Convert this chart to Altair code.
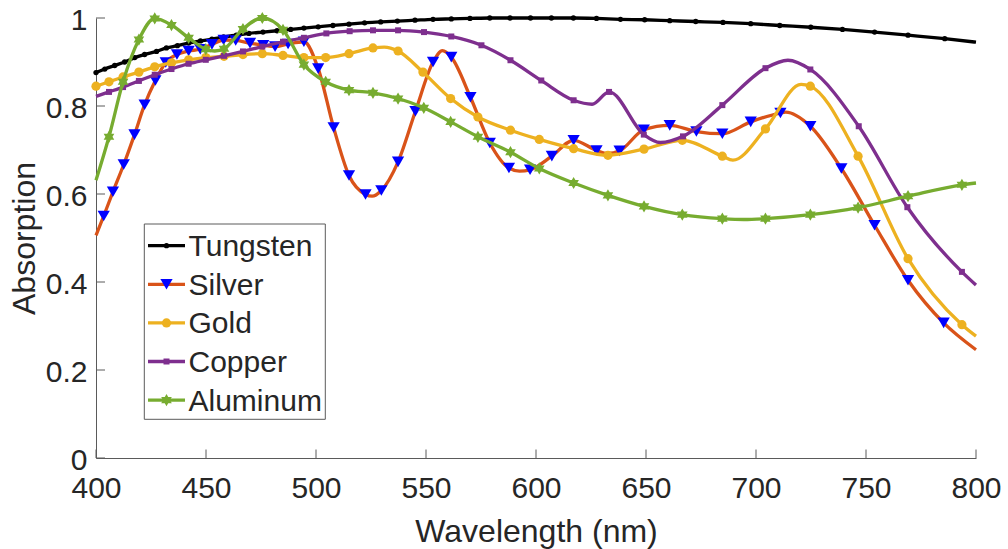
import altair as alt
import pandas as pd

# ---------------- data ----------------
SERIES = ["Tungsten", "Silver", "Gold", "Copper", "Aluminum"]

# Tungsten
TUNG_MK_WL = [400, 404, 408.5, 413, 417.6, 422.1, 427.5, 432, 437, 442.1, 447.5, 452.7, 458, 463.8,
              469.5, 475.9, 482.3, 488.5, 494.5, 501, 507.7, 515, 522.1, 529.4, 537, 545, 553.2, 561.5,
              570, 579, 588.2, 597.5, 607, 617, 627.5, 638.4, 649.4, 660.8, 672.6, 685, 697.6, 710.8,
              724.9, 739.3, 753.9, 769.1, 785.8]
TUNG_MK_A = [0.876, 0.884, 0.892, 0.900, 0.910, 0.917, 0.924, 0.932, 0.937, 0.943, 0.948, 0.952, 0.957, 0.961,
             0.965, 0.968, 0.971, 0.974, 0.977, 0.980, 0.983, 0.986, 0.989, 0.991, 0.993, 0.995, 0.997, 0.998,
             0.999, 1.0, 1.0, 1.0, 1.0, 1.0, 0.999, 0.997, 0.996, 0.994, 0.992, 0.990, 0.987, 0.983,
             0.979, 0.974, 0.968, 0.961, 0.953]
TUNG_LN_WL = [800]
TUNG_LN_A = [0.945]

# Silver
SILV_MK_WL = [403.5, 407.7, 412.6, 417.5, 422.1, 427, 431.7, 436.8, 442.1, 447.4, 452.7, 458, 463.5, 470,
              476, 481.4, 487.3, 494.5, 501, 508, 515, 522.5, 529.7, 537.3, 545.2, 553.2, 561.5, 570.2,
              579, 587.7, 597.3, 607.2, 617.1, 627.5, 638, 649, 660.8, 672.9, 684.7, 697.6, 711.1, 724.7,
              738.8, 753.9, 769.1, 785.3]
SILV_MK_A = [0.550, 0.605, 0.667, 0.735, 0.803, 0.858, 0.899, 0.917, 0.925, 0.929, 0.940, 0.950, 0.949, 0.943,
             0.938, 0.935, 0.941, 0.946, 0.885, 0.751, 0.642, 0.599, 0.608, 0.673, 0.788, 0.900, 0.911, 0.820,
             0.716, 0.659, 0.655, 0.686, 0.722, 0.699, 0.698, 0.746, 0.756, 0.742, 0.737, 0.764, 0.784, 0.754,
             0.658, 0.529, 0.404, 0.307]
SILV_LN_WL = [400, 525.5, 557.5, 592.5, 632.5, 713.5, 800]
SILV_LN_A = [0.506, 0.595, 0.926, 0.652, 0.692, 0.786, 0.246]

# Gold
GOLD_MK_WL = [400, 405.9, 412.3, 419.5, 426.7, 434.3, 442.1, 449.9, 458.2, 466.8, 475.6, 485, 494.5, 504.4,
              515, 525.9, 537.3, 548.6, 561.2, 573.6, 588.4, 601.5, 617.1, 632.7, 649.1, 666.5, 684.7,
              704.3, 724.7, 746.4, 769.1, 793.6]
GOLD_MK_A = [0.845, 0.855, 0.866, 0.877, 0.889, 0.898, 0.905, 0.910, 0.913, 0.917, 0.919, 0.915, 0.910, 0.910,
             0.919, 0.932, 0.925, 0.877, 0.817, 0.775, 0.745, 0.724, 0.703, 0.688, 0.702, 0.722, 0.686,
             0.748, 0.845, 0.686, 0.453, 0.303]
GOLD_LN_WL = [531, 689.5, 720.5, 800]
GOLD_LN_A = [0.934, 0.677, 0.849, 0.277]

# Copper
COPP_MK_WL = [405.9, 412.3, 419.5, 426.7, 434.3, 442.1, 449.9, 458.2, 466.8, 475.6, 485, 494.5, 504.7,
              515.3, 525.9, 537.3, 549.1, 561.5, 575.2, 588.4, 602.4, 617.1, 633.2, 649, 666.8, 684.7,
              704.3, 724.7, 746.7, 768.8, 793.6]
COPP_MK_A = [0.832, 0.843, 0.857, 0.871, 0.884, 0.896, 0.905, 0.914, 0.924, 0.935, 0.946, 0.955, 0.965,
             0.970, 0.972, 0.972, 0.968, 0.958, 0.938, 0.904, 0.858, 0.813, 0.832, 0.735, 0.731, 0.802,
             0.886, 0.883, 0.754, 0.570, 0.423]
COPP_LN_WL = [400, 625.5, 656.5, 714.5, 800]
COPP_LN_A = [0.822, 0.804, 0.717, 0.904, 0.393]

# Aluminum
ALUM_MK_WL = [405.9, 412.3, 419.5, 426.7, 434.3, 442.1, 449.9, 458.2, 466.8, 475.6, 485, 494.5, 504.4,
              515, 525.9, 537.3, 549, 561.2, 573.6, 588.4, 601.5, 617.1, 632.7, 649.1, 666.5, 684.7,
              704.3, 724.7, 746.4, 769.1, 793.6]
ALUM_MK_A = [0.730, 0.855, 0.951, 0.999, 0.984, 0.955, 0.929, 0.930, 0.975, 1.0, 0.973, 0.894, 0.855,
             0.836, 0.830, 0.817, 0.796, 0.764, 0.730, 0.695, 0.658, 0.625, 0.597, 0.572, 0.553, 0.544,
             0.544, 0.553, 0.569, 0.595, 0.621]
ALUM_LN_WL = [400, 454, 694.5, 800]
ALUM_LN_A = [0.631, 0.925, 0.542, 0.625]

X_TICKS = [400, 450, 500, 550, 600, 650, 700, 750, 800]
Y_TICKS = [0, 0.2, 0.4, 0.6, 0.8, 1.0]

# ---------------- styles ----------------
LINE_COLORS = ["#000000", "#D95319", "#EDB120", "#7E2F8E", "#77AC30"]
MARKER_COLORS = ["#000000", "#0000FF", "#EDB120", "#7E2F8E", "#77AC30"]
HEXAGRAM = "M0,-1L0.866,0.5L-0.866,0.5ZM0,1L-0.866,-0.5L0.866,-0.5Z"
MARKER_SHAPES = ["circle", "triangle-down", "circle", "square", HEXAGRAM]
MARKER_SIZES = [28, 150, 85, 36, 150]
FONT = "Liberation Sans"
TXT = "#262626"
AX = "#5a5a5a"
LW = 3.3


def frame(name, mk_wl, mk_a, ln_wl, ln_a):
    a = pd.DataFrame({"wl": mk_wl, "A": mk_a, "mk": True})
    b = pd.DataFrame({"wl": ln_wl, "A": ln_a, "mk": False})
    d = pd.concat([a, b], ignore_index=True).sort_values("wl").reset_index(drop=True)
    d["series"] = name
    return d


frames = [
    frame("Tungsten", TUNG_MK_WL, TUNG_MK_A, TUNG_LN_WL, TUNG_LN_A),
    frame("Silver", SILV_MK_WL, SILV_MK_A, SILV_LN_WL, SILV_LN_A),
    frame("Gold", GOLD_MK_WL, GOLD_MK_A, GOLD_LN_WL, GOLD_LN_A),
    frame("Copper", COPP_MK_WL, COPP_MK_A, COPP_LN_WL, COPP_LN_A),
    frame("Aluminum", ALUM_MK_WL, ALUM_MK_A, ALUM_LN_WL, ALUM_LN_A),
]

X = alt.X("wl:Q", title="Wavelength (nm)",
          scale=alt.Scale(domain=[400, 800], nice=False, zero=False),
          axis=alt.Axis(values=X_TICKS, format="d"))
Y = alt.Y("A:Q", title="Absorption",
          scale=alt.Scale(domain=[0, 1], nice=False, zero=False),
          axis=alt.Axis(values=Y_TICKS, format="~g"))

layers = []
# inward tick marks
layers.append(alt.Chart(pd.DataFrame({"wl": X_TICKS})).mark_rule(color=AX, strokeWidth=1).encode(
    x=X, y=alt.value(440), y2=alt.value(431.5)))
layers.append(alt.Chart(pd.DataFrame({"A": Y_TICKS})).mark_rule(color=AX, strokeWidth=1).encode(
    y=Y, x=alt.value(0), x2=alt.value(9)))

for i, d in enumerate(frames):
    layers.append(alt.Chart(d).mark_line(color=LINE_COLORS[i], strokeWidth=LW,
                                         interpolate="monotone").encode(x=X, y=Y))
    layers.append(alt.Chart(d[d["mk"]]).mark_point(shape=MARKER_SHAPES[i], filled=True,
                                                   size=MARKER_SIZES[i], color=MARKER_COLORS[i],
                                                   opacity=1).encode(x=X, y=Y))

# legend box
LEG_X0, LEG_X1, LEG_Y0, LEG_Y1 = 48.3, 229.3, 206, 401.3
layers.append(alt.Chart(pd.DataFrame({"k": [0]})).mark_rect(fill="white", stroke=AX, strokeWidth=1).encode(
    x=alt.value(LEG_X0), x2=alt.value(LEG_X1), y=alt.value(LEG_Y0), y2=alt.value(LEG_Y1)))
for i, name in enumerate(SERIES):
    yy = 227.7 + i * 38.6
    one = pd.DataFrame({"name": [name]})
    layers.append(alt.Chart(one).mark_rule(color=LINE_COLORS[i], strokeWidth=LW).encode(
        x=alt.value(52), x2=alt.value(89), y=alt.value(yy)))
    layers.append(alt.Chart(one).mark_point(shape=MARKER_SHAPES[i], filled=True, size=MARKER_SIZES[i],
                                            color=MARKER_COLORS[i], opacity=1).encode(
        x=alt.value(70.5), y=alt.value(yy)))
    layers.append(alt.Chart(one).mark_text(font=FONT, fontSize=30, align="left", baseline="alphabetic",
                                           color=TXT).encode(
        x=alt.value(92.5), y=alt.value(yy + 10.5), text="name:N"))

chart = alt.layer(*layers).properties(
    width=880, height=440,
    autosize=alt.AutoSizeParams(type="none"),
    padding={"left": 96, "top": 18, "right": 32, "bottom": 91},
).configure_view(strokeWidth=0).configure_axis(
    grid=False, ticks=False, tickSize=0, domainColor=AX, domainWidth=1,
    labelColor=TXT, titleColor=TXT, labelFont=FONT, titleFont=FONT,
    labelFontSize=30, titleFontSize=32, titleFontWeight="normal", labelFlush=False,
).configure_axisX(
    labelBaseline="alphabetic", labelPadding=39, titleBaseline="alphabetic", titleY=83,
).configure_axisY(
    labelBaseline="alphabetic", labelOffset=11, labelPadding=9,
    titleAngle=270, titleBaseline="alphabetic", titleX=-62, titleY=220,
)

chart.save("out.html", embed_options={"renderer": "svg", "actions": False})
